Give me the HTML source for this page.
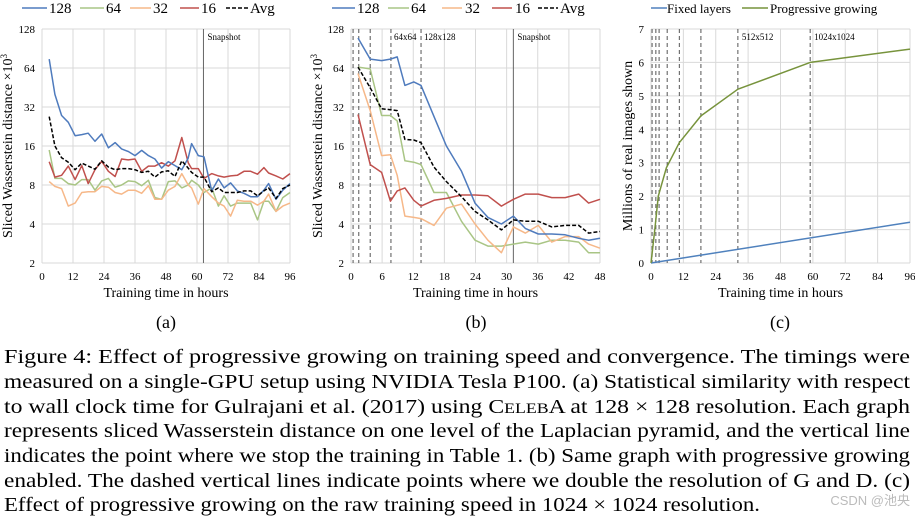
<!DOCTYPE html>
<html><head><meta charset="utf-8">
<style>
html,body{margin:0;padding:0;background:#fff;}
body{width:915px;height:518px;overflow:hidden;font-family:"Liberation Serif",serif;}
svg text{font-family:"Liberation Serif","Noto Serif CJK SC",serif;}
</style></head>
<body>
<svg id="fig" width="915" height="518" viewBox="0 0 915 518" xmlns="http://www.w3.org/2000/svg">
  <g id="chartA"></g>
  <g id="chartB"></g>
  <g id="chartC"></g>
  <text x="166" y="328" font-size="18" text-anchor="middle">(a)</text>
  <text x="476" y="328" font-size="18" text-anchor="middle">(b)</text>
  <text x="780" y="328" font-size="18" text-anchor="middle">(c)</text>
  <g font-size="20">
    <text x="4" y="363" textLength="906" lengthAdjust="spacingAndGlyphs">Figure 4:  Effect of progressive growing on training speed and convergence.  The timings were</text>
    <text x="4" y="388" textLength="906" lengthAdjust="spacingAndGlyphs">measured on a single-GPU setup using NVIDIA Tesla P100. (a) Statistical similarity with respect</text>
    <text x="4" y="413" textLength="906" lengthAdjust="spacingAndGlyphs">to wall clock time for Gulrajani et al. (2017) using C<tspan font-size="15">ELEB</tspan>A at 128 × 128 resolution. Each graph</text>
    <text x="4" y="437" textLength="906" lengthAdjust="spacingAndGlyphs">represents sliced Wasserstein distance on one level of the Laplacian pyramid, and the vertical line</text>
    <text x="4" y="462" textLength="906" lengthAdjust="spacingAndGlyphs">indicates the point where we stop the training in Table 1. (b) Same graph with progressive growing</text>
    <text x="4" y="487" textLength="906" lengthAdjust="spacingAndGlyphs">enabled. The dashed vertical lines indicate points where we double the resolution of G and D. (c)</text>
    <text x="4" y="511" textLength="756" lengthAdjust="spacingAndGlyphs">Effect of progressive growing on the raw training speed in 1024 × 1024 resolution.</text>
  </g>
  <text x="910" y="505" font-size="13" fill="#bbb" text-anchor="end" style="font-family:'Liberation Sans','Noto Sans CJK SC',sans-serif">CSDN @池央</text>
</svg>
<script>
// ---- Chart A data ----
const aHours = [2.8,5.0,7.6,10.2,12.8,15.4,17.9,20.5,23.1,25.7,28.3,30.8,33.4,36,38.6,41.2,43.7,46.3,48.9,51.5,54.1,56.6,57.9,60.5,62.7,65.7,68.3,70.5,73,75.6,78.2,80.8,83.4,85.9,87.7,90.6,93.2,96];
const a128 = [75,40,27.5,24.4,19.2,19.6,20.1,17.4,19.8,15.5,17.0,15.2,14.5,13.5,14.8,13.5,12.7,10.8,12.1,11.3,10.5,12.9,16.7,13.5,13.2,7.2,8.9,7.6,8.3,7.2,6.9,6.5,6.5,7.3,8.2,6.2,7.3,8.2];
const a64 = [14.9,9.0,9.0,8.2,8.0,8.8,8.8,7.3,8.6,9.0,7.7,8.0,8.6,8.5,7.9,8.7,6.4,6.2,8.5,8.6,7.6,8.0,8.7,8.0,7.0,7.6,5.5,6.6,5.5,5.8,5.8,5.8,4.3,6.0,6.0,5.0,6.4,7.0];
const a32 = [8.5,7.8,7.5,5.5,5.8,7.0,7.1,7.1,7.8,7.7,7.0,6.8,7.3,7.3,6.9,7.9,6.2,6.2,7.3,7.8,9.8,8.0,7.6,5.7,7.5,6.5,5.8,5.5,4.6,6.1,6.0,6.0,5.6,6.0,6.8,5.0,5.5,5.8];
const a16 = [12.1,9.2,9.5,11.2,8.8,11.3,8.2,10.5,12.2,10.2,9.3,12.7,12.5,12.7,10.2,11.2,11.2,11.9,11.2,12.3,18.6,11.9,10.7,10.7,9.0,9.8,9.4,9.2,9.4,9.5,10.2,10.2,9.7,10.9,9.9,9.4,8.9,9.8];
const aAvg = [27,16,13,12,10.5,11.8,11.2,10.6,12.3,11,10.5,10.7,10.7,10.5,10,10.2,9.2,10.1,10.3,9.3,12.3,10.8,10.0,9.2,9.2,7.1,7.6,7.0,7.0,7.0,7.2,7.2,6.6,7.2,7.6,6.3,7.5,8.0];
const aXTicks = [0,12,24,36,48,60,72,84,96];
const aYTicks = [2,4,8,16,32,64,128];
const aSnapshot = 62.5;
// ---- Chart B data ----
const bHours = [1.35,3.7,5.9,7.6,8.9,10.4,12.1,13.5,16,18.4,21.3,23.9,26.4,29,31.3,33.6,36.1,38.7,41.3,43.9,45.8,48];
const b128 = [109,75,73,75,78,47,50,47,27,16,10.2,5.8,4.5,4.0,4.6,3.7,3.35,3.35,3.3,3.1,3.0,3.1];
const b64 = [65,63,27.5,27.5,25,12.3,12,11.5,7,7,4.2,3,2.7,2.7,2.8,2.9,2.8,3.0,3.0,2.9,2.4,2.4];
const b32 = [58,30,13.5,13.7,9.5,4.6,4.5,4.4,3.9,5.3,5.7,4.0,3.0,2.4,3.8,3.4,3.9,2.9,3.2,3.2,2.8,2.6];
const b16 = [28,11.5,10,6.0,7.2,7.6,6.1,5.5,6.1,6.3,6.7,6.7,6.6,5.5,6.2,6.8,6.8,6.4,6.4,6.8,5.8,6.2];
const bAvg = [65,45,31,30.5,30,18,17.8,17,11,8.5,6.5,5,4.3,3.6,4.3,4.2,4.2,3.8,3.9,3.9,3.4,3.5];
const bXTicks = [0,6,12,18,24,30,36,42,48];
const bDoublings = [0.4,1.5,3.7,7.7,13.5];
const bSnapshot = 31.3;
// ---- Chart C data ----
const cProgHours = [0,1.4,2.7,5.7,10.5,18.5,32.2,59,96];
const cProgValues = [0,1.0,2.0,2.85,3.6,4.4,5.2,6.0,6.4];
const cFixedHours = [0,96];
const cFixedValues = [0,1.22];
const cXTicks = [0,12,24,36,48,60,72,84,96];
const cYTicks = [0,1,2,3,4,5,6,7];
const cDoublings = [0.4,1.8,3,6,10.5,18.5,32.2,59];

const NS = "http://www.w3.org/2000/svg";
function mk(parent, tag, attrs, text){
  const e = document.createElementNS(NS, tag);
  for (const k in attrs) e.setAttribute(k, attrs[k]);
  if (text !== undefined) e.textContent = text;
  parent.appendChild(e);
  return e;
}
const TOP = 29, BOT = 263;

function logY(v){ return BOT - (Math.log2(v) - 1) / 6 * (BOT - TOP); }

function drawChart(g, x0, x1, xMax, xTicks, yTicks, yFn, yTickFmt, titleX, yTitle){
  const xs = h => x0 + h / xMax * (x1 - x0);
  xTicks.forEach(t => {
    const l = mk(g, 'line', {x1: xs(t), x2: xs(t), y1: TOP, y2: BOT, stroke: '#d9d9d9', 'stroke-width': 1});
    
    
    const tx = mk(g, 'text', {x: xs(t), y: BOT + 17, 'font-size': 11, 'text-anchor': 'middle'}, t);
    
    
  });
  yTicks.forEach(t => {
    const l = mk(g, 'line', {x1: x0, x2: x1, y1: yFn(t), y2: yFn(t), stroke: '#d9d9d9', 'stroke-width': 1});
    
    
    const tx = mk(g, 'text', {x: x0 - 7, y: yFn(t) + 4, 'font-size': 11, 'text-anchor': 'end'}, t);
    
    
  });
  const xt = mk(g, 'text', {x: (x0 + x1) / 2, y: 297, 'font-size': 14, 'text-anchor': 'middle'}, 'Training time in hours');
  
  
  const yt = mk(g, 'text', {x: 0, y: 0, 'font-size': 14, 'text-anchor': 'middle', transform: 'translate(' + titleX + ',' + ((TOP + BOT) / 2) + ') rotate(-90)'});
  yt.innerHTML = yTitle;
  
  
  return xs;
}

function series(g, xs, yFn, hours, vals, color, name, dash){
  const pts = hours.map((h, i) => xs(h).toFixed(1) + ',' + yFn(vals[i]).toFixed(1)).join(' ');
  const p = mk(g, 'polyline', {points: pts, fill: 'none', stroke: color, 'stroke-width': 1.5, 'stroke-linejoin': 'round'});
  if (dash) p.setAttribute('stroke-dasharray', '4,2');
  
  
}

function vline(g, xs, h, dashed, name){
  const l = mk(g, 'line', {x1: xs(h), x2: xs(h), y1: TOP, y2: BOT, stroke: dashed ? '#555' : '#666', 'stroke-width': 1});
  if (dashed) l.setAttribute('stroke-dasharray', '4,3');
  
  
}

function legendItem(g, x1, x2, tx, label, color, dash, fs){
  const l = mk(g, 'line', {x1: x1, x2: x2, y1: 8, y2: 8, stroke: color, 'stroke-width': 1.5});
  if (dash) l.setAttribute('stroke-dasharray', '4,2');
  
  
  const t = mk(g, 'text', {x: tx, y: 13, 'font-size': fs || 15}, label);
  
  
}

const C128 = '#4f7bbd', C64 = '#a9c585', C32 = '#f6b889', C16 = '#c0504d', CAVG = '#000';
const SWD = 'Sliced Wasserstein distance ×10<tspan font-size="9" dy="-5">3</tspan>';

// Chart A
const gA = document.getElementById('chartA');
const xsA = drawChart(gA, 42, 290, 96, aXTicks, aYTicks, logY, null, 12, SWD);
vline(gA, xsA, aSnapshot, false, 'snapshot-line');
const snA = mk(gA, 'text', {x: xsA(aSnapshot) + 4, y: 40, 'font-size': 9}, 'Snapshot');


series(gA, xsA, logY, aHours, a64, C64, 'series-64');
series(gA, xsA, logY, aHours, a32, C32, 'series-32');
series(gA, xsA, logY, aHours, a16, C16, 'series-16');
series(gA, xsA, logY, aHours, a128, C128, 'series-128');
series(gA, xsA, logY, aHours, aAvg, CAVG, 'series-avg', true);
legendItem(gA, 22, 47, 49, '128', C128);
legendItem(gA, 80, 104, 106, '64', C64);
legendItem(gA, 130, 151, 153, '32', C32);
legendItem(gA, 180, 199, 201, '16', C16);
legendItem(gA, 226, 248, 250, 'Avg', CAVG, true);

// Chart B
const gB = document.getElementById('chartB');
const xsB = drawChart(gB, 351, 600, 48, bXTicks, aYTicks, logY, null, 322, SWD);
bDoublings.forEach(h => vline(gB, xsB, h, true, 'doubling-line'));
vline(gB, xsB, bSnapshot, false, 'snapshot-line');
[['64x64', 7.7, 'res-label-64'], ['128x128', 13.5, 'res-label-128']].forEach(r => {
  const t = mk(gB, 'text', {x: xsB(r[1]) + 3, y: 40, 'font-size': 9}, r[0]);
  
  
});
const snB = mk(gB, 'text', {x: xsB(bSnapshot) + 4, y: 40, 'font-size': 9}, 'Snapshot');


series(gB, xsB, logY, bHours, b64, C64, 'series-64');
series(gB, xsB, logY, bHours, b32, C32, 'series-32');
series(gB, xsB, logY, bHours, b16, C16, 'series-16');
series(gB, xsB, logY, bHours, b128, C128, 'series-128');
series(gB, xsB, logY, bHours, bAvg, CAVG, 'series-avg', true);
legendItem(gB, 332, 355, 357, '128', C128);
legendItem(gB, 388, 409, 411, '64', C64);
legendItem(gB, 442, 462, 465, '32', C32);
legendItem(gB, 492, 512, 515, '16', C16);
legendItem(gB, 538, 558, 560, 'Avg', CAVG, true);

// Chart C
const gC = document.getElementById('chartC');
const linY = v => BOT - v / 7 * (BOT - TOP);
const xsC = drawChart(gC, 651, 910, 96, cXTicks, cYTicks, linY, null, 632, 'Millions of real images shown');
cDoublings.forEach(h => vline(gC, xsC, h, true, 'doubling-line'));
[['512x512', 32.2, 'res-label-512'], ['1024x1024', 59, 'res-label-1024']].forEach(r => {
  const t = mk(gC, 'text', {x: xsC(r[1]) + 4, y: 40, 'font-size': 9}, r[0]);
  
  
});
series(gC, xsC, linY, cFixedHours, cFixedValues, '#4f81bd', 'series-fixed-layers');
series(gC, xsC, linY, cProgHours, cProgValues, '#77933c', 'series-progressive-growing');
legendItem(gC, 651, 667, 667, 'Fixed layers', '#4f81bd', false, 13);
legendItem(gC, 742, 768, 770, 'Progressive growing', '#77933c', false, 13);
</script>
</body></html>
